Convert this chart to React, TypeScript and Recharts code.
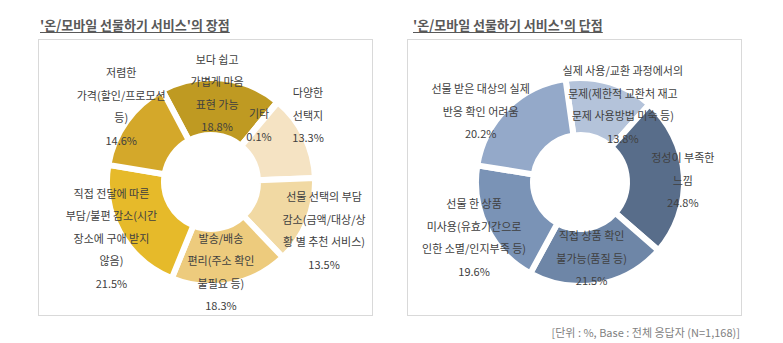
import React from 'react';
import { PieChart, Pie, Cell } from 'recharts';

// 장점 (advantages), clockwise from the top
const prosLabels = [
  ['보다 쉽고', '가볍게 마음', '표현 가능'],
  ['기타'],
  ['다양한', '선택지'],
  ['선물 선택의 부담', '감소(금액/대상/상', '황 별 추천 서비스)'],
  ['발송/배송', '편리(주소 확인', '불필요 등)'],
  ['직접 전달에 따른', '부담/불편 감소(시간', '장소에 구애 받지', '않음)'],
  ['저렴한', '가격(할인/프로모션', '등)'],
];
const prosValues = [18.8, 0.1, 13.3, 13.5, 18.3, 21.5, 14.6];

// 단점 (disadvantages), clockwise from the top
const consLabels = [
  ['실제 사용/교환 과정에서의', '문제(제한적 교환처 재고', '문제 사용방법 미숙 등)'],
  ['정성이 부족한', '느낌'],
  ['직접 상품 확인', '불가능(품질 등)'],
  ['선물 한 상품', '미사용(유효기간으로', '인한 소멸/인지부족 등)'],
  ['선물 받은 대상의 실제', '반응 확인 어려움'],
];
const consValues = [13.8, 24.8, 21.5, 19.6, 20.2];

const prosColors = ['#BF9A22', '#C9A227', '#F5E3C3', '#F1D9A3', '#EDCB7D', '#E6BA2A', '#D4A82A'];
const consColors = ['#B4C3DA', '#586D8A', '#6E86A7', '#7A93B6', '#94A9C9'];

// label placement: radius from centre + small nudge
const prosLabelPos = [
  { r: 90, dx: -3, dy: 0 },
  { r: 75, dx: 0, dy: 0 },
  { r: 117, dx: -8, dy: -16 },
  { r: 122, dx: 0, dy: 2 },
  { r: 91, dx: -7, dy: 0 },
  { r: 114, dx: 0, dy: 0 },
  { r: 118, dx: 6, dy: -7 },
];
const consLabelPos = [
  { r: 89, dx: 17, dy: 7 },
  { r: 103, dx: 0, dy: 4 },
  { r: 77, dx: -2, dy: 0 },
  { r: 118, dx: 0, dy: 3 },
  { r: 122, dx: -14, dy: 16 },
];

const FONT = '"Noto Sans CJK KR", "Noto Sans", sans-serif';
const RAD = Math.PI / 180;
const LINE_H = 22.5;

const makeLabel = (pos: { r: number; dx: number; dy: number }[]) => (props: any) => {
  const { cx, cy, midAngle, index, payload } = props;
  const p = pos[index];
  const x = cx + p.r * Math.cos(-midAngle * RAD) + p.dx;
  const y = cy + p.r * Math.sin(-midAngle * RAD) + p.dy;
  const lines = [...payload.lines, `${payload.value}%`];
  const top = y - ((lines.length - 1) * LINE_H) / 2;
  return (
    <text x={x} y={top} textAnchor="middle" fill="#404040" fontSize={11} fontFamily={FONT} dominantBaseline="central">
      {lines.map((l: string, i: number) => (
        <tspan key={i} x={x} y={top + i * LINE_H}>{l}</tspan>
      ))}
    </text>
  );
};

const prosData = prosValues.map((v, i) => ({ value: v, lines: prosLabels[i] }));
const consData = consValues.map((v, i) => ({ value: v, lines: consLabels[i] }));

const boxStyle: React.CSSProperties = {
  position: 'absolute',
  top: 39,
  width: 335,
  height: 277,
  border: '1px solid #D9D9D9',
  boxSizing: 'border-box',
};

const titleStyle: React.CSSProperties = {
  position: 'absolute',
  top: 16,
  fontSize: 13,
  lineHeight: '17px',
  fontWeight: 700,
  color: '#595959',
  textDecoration: 'underline',
  textUnderlineOffset: 2,
  whiteSpace: 'nowrap',
};

export default function App() {
  return (
    <div style={{ position: 'absolute', left: 0, top: 0, width: 783, height: 343, background: '#fff', fontFamily: FONT }}>
      <div style={{ ...titleStyle, left: 40 }}>'온/모바일 선물하기 서비스'의 장점</div>
      <div style={{ ...titleStyle, left: 413 }}>'온/모바일 선물하기 서비스'의 단점</div>
      <div style={{ ...boxStyle, left: 38 }} />
      <div style={{ ...boxStyle, left: 407 }} />
      <div style={{ position: 'absolute', left: 0, top: 0 }}>
        <PieChart width={783} height={343}>
          <Pie
            data={prosData}
            dataKey="value"
            cx={206}
            cy={177}
            innerRadius={47}
            outerRadius={104}
            startAngle={118}
            endAngle={-242}
            stroke="#fff"
            strokeWidth={6}
            label={makeLabel(prosLabelPos)}
            labelLine={false}
            isAnimationActive={false}
          >
            {prosData.map((_, i) => (
              <Cell key={i} fill={prosColors[i]} />
            ))}
          </Pie>
          <Pie
            data={consData}
            dataKey="value"
            cx={575}
            cy={177}
            innerRadius={47}
            outerRadius={104}
            startAngle={98}
            endAngle={-262}
            stroke="#fff"
            strokeWidth={6}
            label={makeLabel(consLabelPos)}
            labelLine={false}
            isAnimationActive={false}
          >
            {consData.map((_, i) => (
              <Cell key={i} fill={consColors[i]} />
            ))}
          </Pie>
        </PieChart>
      </div>
      <div
        style={{
          position: 'absolute',
          right: 43,
          top: 324,
          fontSize: 11,
          lineHeight: '16px',
          color: '#7F7F7F',
          whiteSpace: 'nowrap',
        }}
      >
        [단위 : %, Base : 전체 응답자 (N=1,168)]
      </div>
    </div>
  );
}
